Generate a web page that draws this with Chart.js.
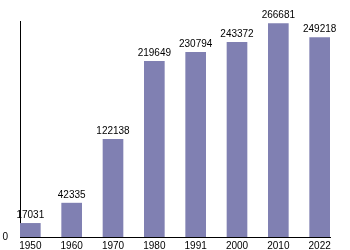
<!DOCTYPE html>
<html>
<head>
<meta charset="utf-8">
<script src="https://cdn.jsdelivr.net/npm/chart.js@4"></script>
<style>
  html, body { margin: 0; padding: 0; background: #fff; }
  #wrap { width: 350px; height: 250px; }
</style>
</head>
<body>
<div id="wrap"><canvas id="chart"></canvas></div>
<script>
// Population by census year
const years = ['1950', '1960', '1970', '1980', '1991', '2000', '2010', '2022'];
const population = [17031, 42335, 122138, 219649, 230794, 243372, 266681, 249218];
const yTicks = [0];

const barColour = 'rgb(128,128,178)';
const font = { family: '"Liberation Sans", Arial, sans-serif', size: 10 };

// Value labels drawn above each bar
const valueLabels = {
  id: 'valueLabels',
  afterDatasetsDraw(chart) {
    const ctx = chart.ctx;
    const meta = chart.getDatasetMeta(0);
    ctx.save();
    ctx.font = font.size + 'px ' + font.family;
    ctx.fillStyle = '#000';
    ctx.textAlign = 'center';
    ctx.textBaseline = 'bottom';
    meta.data.forEach((bar, i) => {
      ctx.fillText(String(population[i]), bar.x, bar.y - 3);
    });
    ctx.restore();
  }
};

new Chart(document.getElementById('chart').getContext('2d'), {
  type: 'bar',
  data: {
    datasets: [{
      data: population.map((v, i) => ({ x: i, y: v })),
      backgroundColor: barColour,
      borderWidth: 0,
      barThickness: 20
    }]
  },
  options: {
    responsive: true,
    maintainAspectRatio: false,
    animation: false,
    layout: { padding: { top: 21, right: 20, left: 0, bottom: 0 } },
    plugins: { legend: { display: false }, tooltip: { enabled: false } },
    scales: {
      x: {
        type: 'linear',
        min: -0.25,
        max: 7.25,
        offset: false,
        grid: { display: false, drawTicks: false },
        border: { display: true, color: '#000', width: 1 },
        afterBuildTicks: axis => { axis.ticks = years.map((_, i) => ({ value: i })); },
        afterFit: axis => {
          axis.height = 13;
          axis.paddingLeft = 0;
          axis.paddingRight = 0;
        },
        ticks: {
          color: '#000',
          font: font,
          padding: 3,
          maxRotation: 0,
          autoSkip: false,
          callback: value => years[value]
        }
      },
      y: {
        min: 0,
        max: 270000,
        grid: { display: false, drawTicks: false },
        border: { display: true, color: '#000', width: 1 },
        afterBuildTicks: axis => { axis.ticks = yTicks.map(v => ({ value: v })); },
        afterFit: axis => {
          axis.width = 20;
          axis.paddingTop = 0;
          axis.paddingBottom = 0;
        },
        ticks: { color: '#000', font: font, padding: 12 }
      }
    }
  },
  plugins: [valueLabels]
});
</script>
</body>
</html>
